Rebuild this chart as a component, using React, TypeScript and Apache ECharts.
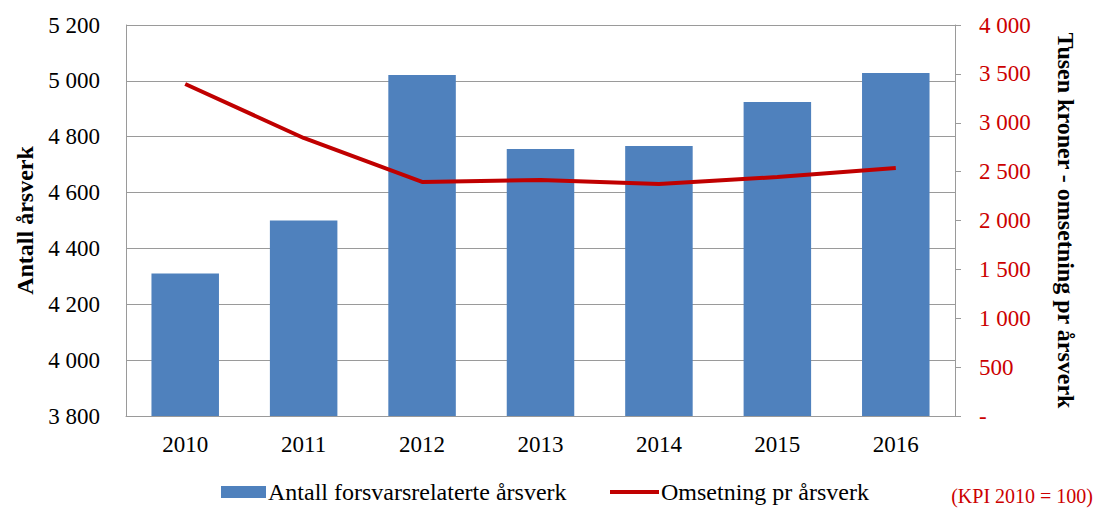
import React, { useEffect, useRef } from "react";
import * as echarts from "echarts";

const years = ["2010", "2011", "2012", "2013", "2014", "2015", "2016"];
const arsverk = [4310, 4500, 5021, 4756, 4767, 4924, 5028];
const omsetning = [3396, 2844, 2394, 2414, 2373, 2445, 2537];
const barName = "Antall forsvarsrelaterte årsverk";
const lineName = "Omsetning pr årsverk";
const note = "(KPI 2010 = 100)";

const fmt = (v: number) => {
  if (v === 0) return "-";
  const s = String(Math.round(v));
  return s.replace(/\B(?=(\d{3})+(?!\d))/g, " ");
};

export default function App() {
  const ref = useRef<HTMLDivElement>(null);
  useEffect(() => {
    if (!ref.current) return;
    const chart = echarts.init(ref.current, null, { renderer: "svg" });
    const font = "'Liberation Serif', 'Times New Roman', serif";
    chart.setOption({
      animation: false,
      textStyle: { fontFamily: font },
      grid: { left: 126, right: 142, top: 25, bottom: 93 },
      legend: [
        {
          data: [{ name: barName, icon: "rect" }],
          left: 221,
          top: 480,
          padding: 0,
          itemWidth: 45,
          itemHeight: 12,
          textStyle: { fontFamily: font, fontSize: 24, color: "#000", padding: [0, 0, 0, -3] },
        },
        {
          data: [{ name: lineName, icon: "rect" }],
          left: 610,
          top: 480,
          padding: 0,
          itemWidth: 49,
          itemHeight: 4,
          textStyle: { fontFamily: font, fontSize: 24, color: "#000", padding: [0, 0, 0, -3] },
        },
      ],
      xAxis: {
        type: "category",
        data: years,
        axisLine: { lineStyle: { color: "#9a9a9a", width: 1 } },
        axisTick: { show: false },
        axisLabel: { fontFamily: font, fontSize: 23, color: "#000", margin: 17 },
      },
      yAxis: [
        {
          type: "value",
          min: 3800,
          max: 5200,
          interval: 200,
          name: "Antall årsverk",
          nameLocation: "middle",
          nameRotate: 90,
          nameGap: 88,
          nameTextStyle: { fontFamily: font, fontSize: 24, fontWeight: "bold", color: "#000" },
          axisLine: { show: true, lineStyle: { color: "#9a9a9a" } },
          axisTick: { show: false },
          splitLine: { show: true, lineStyle: { color: "#9a9a9a", width: 1 } },
          axisLabel: { fontFamily: font, fontSize: 23, color: "#000", margin: 26, formatter: (v: number) => fmt(v) },
        },
        {
          type: "value",
          min: 0,
          max: 4000,
          interval: 500,
          name: "Tusen kroner - omsetning pr årsverk",
          nameLocation: "middle",
          nameRotate: -90,
          nameGap: 99,
          nameTextStyle: { fontFamily: font, fontSize: 24, fontWeight: "bold", color: "#000" },
          axisLine: { show: true, lineStyle: { color: "#9a9a9a" } },
          axisTick: { show: true, inside: false, length: 6, lineStyle: { color: "#9a9a9a" } },
          splitLine: { show: false },
          axisLabel: { fontFamily: font, fontSize: 23, color: "#cc0000", margin: 24, formatter: (v: number) => fmt(v) },
        },
      ],
      series: [
        {
          name: barName,
          type: "bar",
          data: arsverk,
          yAxisIndex: 0,
          barWidth: "57%",
          itemStyle: { color: "#4f81bd" },
        },
        {
          name: lineName,
          type: "line",
          data: omsetning,
          yAxisIndex: 1,
          symbol: "none",
          lineStyle: { color: "#c00000", width: 4 },
          itemStyle: { color: "#c00000" },
        },
      ],
      graphic: [
        {
          type: "text",
          right: 4,
          top: 486,
          style: { text: note, fontFamily: font, fontSize: 20, fill: "#cc0000" },
        },
      ],
    });
    return () => chart.dispose();
  }, []);
  return <div ref={ref} style={{ position: "absolute", left: 0, top: 0, width: 1097, height: 509 }} />;
}
